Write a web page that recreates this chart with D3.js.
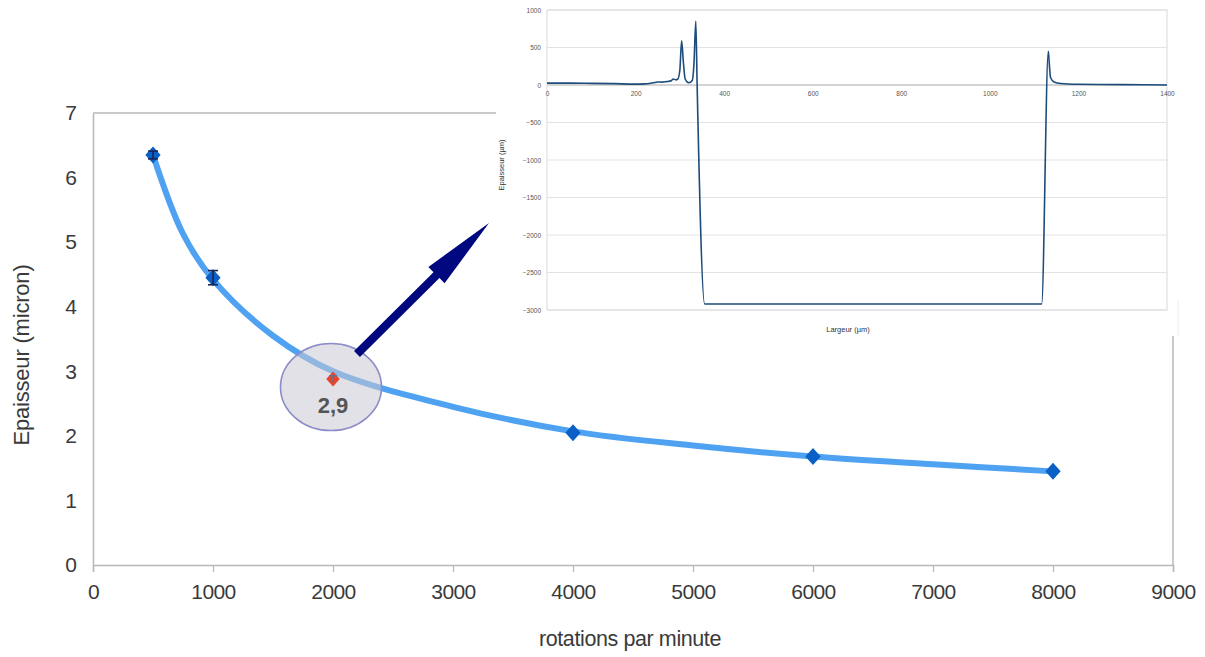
<!DOCTYPE html>
<html>
<head>
<meta charset="utf-8">
<script src="https://cdn.jsdelivr.net/npm/d3@7"></script>
<style>
  html, body { margin: 0; padding: 0; background: #fff; }
  svg { display: block; font-family: "Liberation Sans", Arial, sans-serif; }
</style>
</head>
<body>
<svg id="chart" width="1205" height="657"></svg>
<script>
// ---- main chart data ----
const rpm = [500, 1000, 2000, 4000, 6000, 8000];
const thickness = [6.35, 4.45, 2.88, 2.05, 1.68, 1.45];
const errBars = [0.06, 0.11, 0.05, 0, 0, 0];
const highlightIndex = 2;
const highlightLabel = "2,9";
// trend line
const trendX = [500, 750, 1000, 1500, 2000, 3000, 4000, 5000, 6000, 7000, 8000];
const trendY = [6.35, 5.13, 4.42, 3.55, 3.0, 2.45, 2.07, 1.85, 1.68, 1.56, 1.45];
const xTicks = [0, 1000, 2000, 3000, 4000, 5000, 6000, 7000, 8000, 9000];
const yTicks = [0, 1, 2, 3, 4, 5, 6, 7];

// ---- inset profile data ----
const profX = [0, 50, 100, 150, 200, 220, 240, 250, 260, 270, 280, 285, 290, 295, 300, 304, 308, 312, 320, 328, 332, 336, 339, 356, 1117, 1132, 1134, 1137, 1145, 1160, 1200, 1300, 1400];
const profY = [25, 25, 22, 18, 12, 15, 30, 40, 38, 45, 55, 80, 70, 75, 200, 590, 300, 80, 30, 60, 300, 850, 0, -2920, -2920, 450, 300, 100, 40, 20, 10, 5, 0];
const insetXTicks = [0, 200, 400, 600, 800, 1000, 1200, 1400];
const insetYTicks = [1000, 500, 0, -500, -1000, -1500, -2000, -2500, -3000];

const svg = d3.select("#chart");

// ================= MAIN CHART =================
const x = d3.scaleLinear().domain([0, 9000]).range([93, 1173]);
const y = d3.scaleLinear().domain([0, 7]).range([565, 113]);
const axisColor = "#b8b8b8";
const textColor = "#3a3a3a";

// frame
svg.append("line").attr("x1", x(0)).attr("x2", x(9000)).attr("y1", y(7)).attr("y2", y(7))
  .attr("stroke", axisColor).attr("stroke-width", 1.5);
svg.append("line").attr("x1", x(9000)).attr("x2", x(9000)).attr("y1", y(7)).attr("y2", y(0))
  .attr("stroke", axisColor).attr("stroke-width", 1.5);

// x axis
const gx = svg.append("g").attr("transform", `translate(0,${y(0)})`)
  .call(d3.axisBottom(x).tickValues(xTicks).tickSize(7).tickPadding(12).tickFormat(d3.format("d")));
gx.select(".domain").attr("stroke", axisColor).attr("stroke-width", 1.5);
gx.selectAll(".tick line").attr("stroke", axisColor).attr("stroke-width", 1.2);
gx.selectAll(".tick text").attr("fill", textColor).attr("font-size", 21)
  .attr("font-family", "Liberation Sans, Arial, sans-serif").attr("letter-spacing", -0.6);

// y axis
const gy = svg.append("g").attr("transform", `translate(${x(0)},0)`)
  .call(d3.axisLeft(y).tickValues(yTicks).tickSize(0).tickPadding(16).tickFormat(d3.format("d")));
gy.select(".domain").attr("stroke", axisColor).attr("stroke-width", 1.5);
gy.selectAll(".tick text").attr("fill", textColor).attr("font-size", 21)
  .attr("font-family", "Liberation Sans, Arial, sans-serif");

// axis titles
svg.append("text").attr("x", 630).attr("y", 646).attr("text-anchor", "middle")
  .attr("font-size", 21.5).attr("fill", textColor).attr("letter-spacing", -0.4).text("rotations par minute");
svg.append("text").attr("transform", "translate(29,355) rotate(-90)").attr("text-anchor", "middle")
  .attr("font-size", 22).attr("fill", textColor).attr("letter-spacing", -0.2).text("Epaisseur (micron)");

// trend curve
const trendData = trendX.map((v, i) => [v, trendY[i]]);
svg.append("path").datum(trendData)
  .attr("d", d3.line().x(d => x(d[0])).y(d => y(d[1])).curve(d3.curveCatmullRom.alpha(0.5)))
  .attr("fill", "none").attr("stroke", "#4fa2f2").attr("stroke-width", 6).attr("stroke-linecap", "round");

const pts = rpm.map((v, i) => ({ x: v, y: thickness[i], e: errBars[i], i }));

// markers
const diamond = s => `M0,${-s}L${s * 0.9},0L0,${s}L${-s * 0.9},0Z`;
svg.append("g").selectAll("path").data(pts.filter(d => d.i !== highlightIndex)).join("path")
  .attr("transform", d => `translate(${x(d.x)},${y(d.y)})`)
  .attr("d", diamond(8.5)).attr("fill", "#0a60c6");

// error bars (drawn above markers, as in the picture)
pts.filter(d => d.e > 0 && d.i !== highlightIndex).forEach(d => {
  const cx = x(d.x);
  [d.y + d.e, d.y - d.e].forEach(v => {
    svg.append("line").attr("x1", cx - 5).attr("x2", cx + 5).attr("y1", y(v)).attr("y2", y(v))
      .attr("stroke", "#1b2552").attr("stroke-width", 1.6);
  });
  svg.append("line").attr("x1", cx).attr("x2", cx).attr("y1", y(d.y + d.e)).attr("y2", y(d.y - d.e))
    .attr("stroke", "#1b2552").attr("stroke-width", 1.6);
});

// highlight ellipse
const hp = pts[highlightIndex];
svg.append("ellipse").attr("cx", x(hp.x) - 2).attr("cy", y(hp.y) + 8).attr("rx", 50.5).attr("ry", 43.5)
  .attr("fill", "rgba(200,200,212,0.55)").attr("stroke", "#8c8cc8").attr("stroke-width", 1.6);
// highlight point (on top of ellipse)
svg.append("path").attr("transform", `translate(${x(hp.x)},${y(hp.y)})`)
  .attr("d", diamond(7.5)).attr("fill", "#e4472a");
svg.append("line").attr("x1", x(hp.x)).attr("x2", x(hp.x)).attr("y1", y(hp.y + hp.e)).attr("y2", y(hp.y - hp.e))
  .attr("stroke", "#6a6a9a").attr("stroke-width", 1.4);
svg.append("line").attr("x1", x(hp.x) - 4).attr("x2", x(hp.x) + 4).attr("y1", y(hp.y + hp.e)).attr("y2", y(hp.y + hp.e))
  .attr("stroke", "#6a6a9a").attr("stroke-width", 1.4);
svg.append("text").attr("x", x(hp.x)).attr("y", y(hp.y) + 34).attr("text-anchor", "middle")
  .attr("font-size", 22).attr("font-weight", "bold").attr("fill", "#555").text(highlightLabel);

// arrow
const ax0 = 357, ay0 = 354, tipX = 489, tipY = 223;
const dx = tipX - ax0, dy = tipY - ay0, L = Math.hypot(dx, dy);
const ux = dx / L, uy = dy / L, nx = -uy, ny = ux;
const headLen = 74, headHalf = 11.5, shaftHalf = 4.2;
const bx = tipX - ux * headLen, by = tipY - uy * headLen;
const arrowPts = [
  [ax0 + nx * shaftHalf, ay0 + ny * shaftHalf],
  [bx + nx * shaftHalf, by + ny * shaftHalf],
  [bx + nx * headHalf, by + ny * headHalf],
  [tipX, tipY],
  [bx - nx * headHalf, by - ny * headHalf],
  [bx - nx * shaftHalf, by - ny * shaftHalf],
  [ax0 - nx * shaftHalf, ay0 - ny * shaftHalf]
];
svg.append("path").attr("d", d3.line()(arrowPts) + "Z").attr("fill", "#00087f");

// ================= INSET =================
svg.append("rect").attr("x", 496).attr("y", 0).attr("width", 682).attr("height", 336)
  .attr("fill", "#fff");
svg.append("line").attr("x1", 1178).attr("x2", 1178).attr("y1", 300).attr("y2", 336)
  .attr("stroke", "#eeeeee").attr("stroke-width", 1);

const ix = d3.scaleLinear().domain([0, 1400]).range([547, 1167]);
const iy = d3.scaleLinear().domain([-3000, 1000]).range([310, 10]);

// gridlines
svg.append("g").selectAll("line").data(insetYTicks).join("line")
  .attr("x1", ix(0)).attr("x2", ix(1400)).attr("y1", d => iy(d)).attr("y2", d => iy(d))
  .attr("stroke", d => d === 0 ? "#a8a8a8" : "#e3e3e3").attr("stroke-width", d => d === 0 ? 1 : 1.2);
// frame
svg.append("rect").attr("x", ix(0)).attr("y", iy(1000)).attr("width", ix(1400) - ix(0))
  .attr("height", iy(-3000) - iy(1000)).attr("fill", "none").attr("stroke", "#e0e0e0").attr("stroke-width", 1.2);

// inset y labels
const igy = svg.append("g").attr("transform", `translate(${ix(0)},0)`)
  .call(d3.axisLeft(iy).tickValues(insetYTicks).tickSize(0).tickPadding(6).tickFormat(d3.format("d")));
igy.select(".domain").remove();
igy.selectAll(".tick text").attr("font-size", 6.5).attr("fill", "#555")
  .attr("font-family", "Liberation Sans, Arial, sans-serif");

// inset x labels (along zero line)
const igx = svg.append("g").attr("transform", `translate(0,${iy(0)})`)
  .call(d3.axisBottom(ix).tickValues(insetXTicks).tickSize(0).tickPadding(6).tickFormat(d3.format("d")));
igx.select(".domain").remove();
igx.selectAll(".tick text").attr("font-size", 6.5).attr("fill", "#555")
  .attr("font-family", "Liberation Sans, Arial, sans-serif");

// inset titles
svg.append("text").attr("x", 848).attr("y", 332).attr("text-anchor", "middle")
  .attr("font-size", 7.5).attr("fill", "#333").text("Largeur (µm)");
svg.append("text").attr("transform", "translate(504,165) rotate(-90)").attr("text-anchor", "middle")
  .attr("font-size", 7.5).attr("fill", "#333").text("Epaisseur (µm)");

// profile
const prof = profX.map((v, i) => [v, profY[i]]);
svg.append("path").datum(prof)
  .attr("d", d3.line().x(d => ix(d[0])).y(d => iy(d[1])).curve(d3.curveMonotoneX))
  .attr("fill", "none").attr("stroke", "#1d4b7a").attr("stroke-width", 1.6).attr("stroke-linejoin", "round");
</script>
</body>
</html>
